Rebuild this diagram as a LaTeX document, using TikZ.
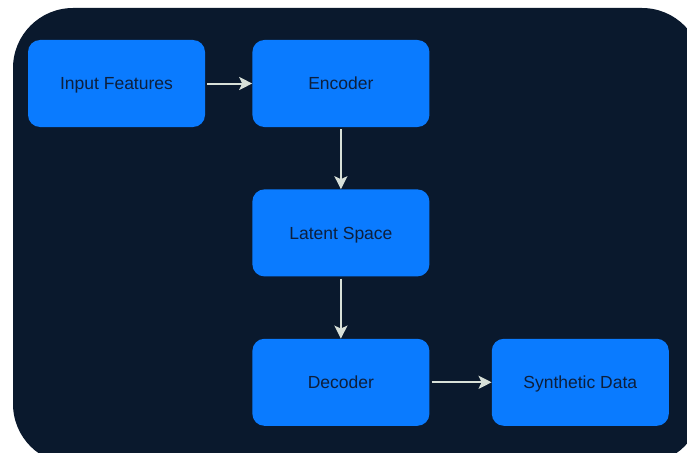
\documentclass[tikz,border=0pt]{standalone}
\usepackage{fontspec}
\setmainfont{Liberation Sans}
\usepackage{xcolor}
\usepackage{tikz}
\usetikzlibrary{arrows.meta,positioning}

\definecolor{panelbg}{HTML}{0A192D}
\definecolor{boxblue}{HTML}{0A7BFF}
\definecolor{boxtext}{HTML}{0D1F3C}
\definecolor{arrowgrey}{HTML}{D8E0D8}

\begin{document}
\begin{tikzpicture}[
  x=1pt,y=-1pt,
  node distance=62pt,
  box/.style={rounded corners=12pt,fill=boxblue,minimum width=177pt,minimum height=87pt,align=center,
    text=boxtext,font=\fontsize{17.5}{21}\selectfont,text height=12.5pt,text depth=0pt},
  arr/.style={-{Stealth[length=13pt,width=13pt,inset=3pt]},arrowgrey,line width=2pt,shorten <=2pt}
]
  % page and dark panel
  \useasboundingbox (0,0) rectangle (687,452);
  \fill[white] (0,0) rectangle (687,452);
  \fill[panelbg,rounded corners=60pt] (13,8) rectangle (702,464);

  \node[box] (inp) at (116.5,83.5) {Input Features};
  \node[box, right=47pt of inp] (enc) {Encoder};
  \node[box, below=of enc] (lat) {Latent Space};
  \node[box, below=of lat] (dec) {Decoder};
  \node[box, right=of dec] (syn) {Synthetic Data};

  \draw[arr] (inp) -- (enc);
  \draw[arr] (enc) -- (lat);
  \draw[arr] (lat) -- (dec);
  \draw[arr] (dec) -- (syn);
\end{tikzpicture}
\end{document}
